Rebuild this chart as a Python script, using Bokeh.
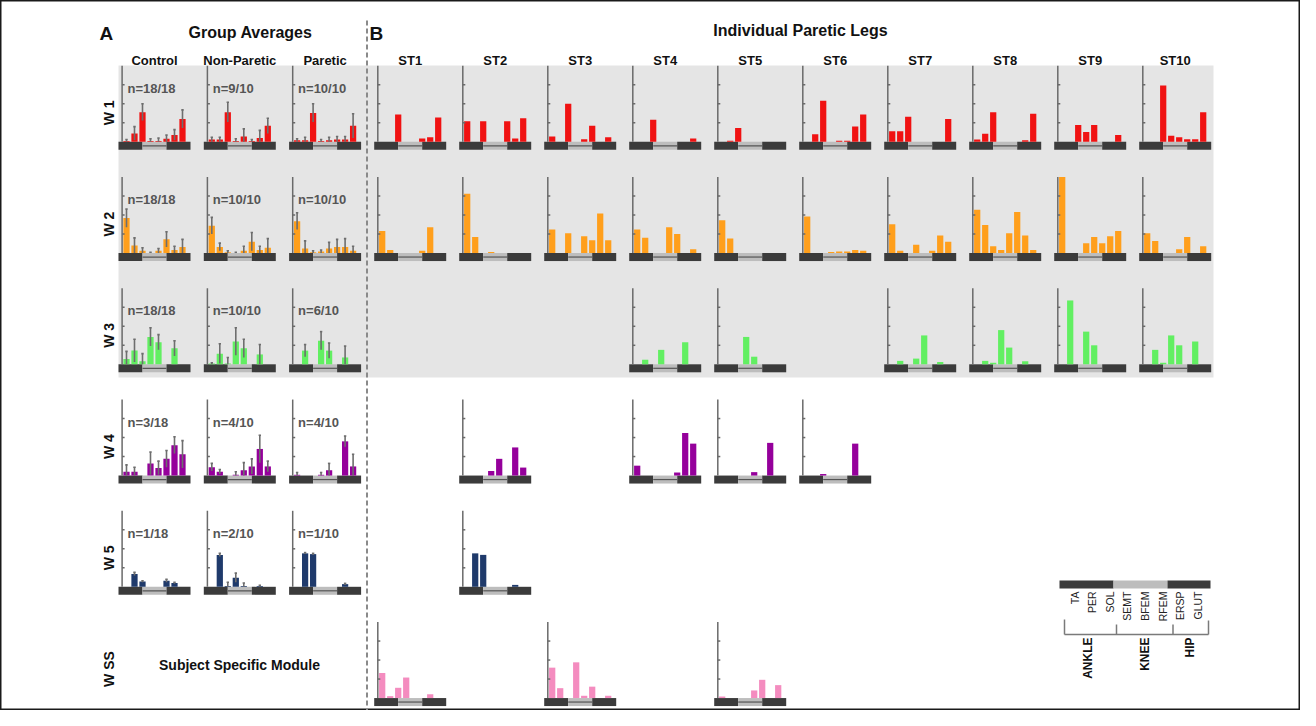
import math
from bokeh.plotting import figure
from bokeh.models import Range1d, ColumnDataSource
from bokeh.core.properties import value
from bokeh.embed import file_html
from bokeh.resources import INLINE

FONT = "Liberation Sans"

# ---------------- data ----------------
MUSCLES = ["TA", "PER", "SOL", "SEMT", "BFEM", "RFEM", "ERSP", "GLUT"]
JOINTS = ["ANKLE", "KNEE", "HIP"]
ROW_LABELS = ["W 1", "W 2", "W 3", "W 4", "W 5", "W SS"]
GROUPS = ["Control", "Non-Paretic", "Paretic"]
SUBJECTS = ["ST1", "ST2", "ST3", "ST4", "ST5", "ST6", "ST7", "ST8", "ST9", "ST10"]
ROW_COLORS = ["#f01212", "#ff9f1c", "#62ef62", "#95009b", "#1f3a6b", "#f48cbf"]

# group averages (fraction of axis height), order: Control, Non-Paretic, Paretic
W1_MEAN = [[0.01, 0.11, 0.39, 0.01, 0.01, 0.04, 0.09, 0.30],
           [0.03, 0.03, 0.39, 0.01, 0.07, 0.01, 0.05, 0.21],
           [0.02, 0.02, 0.38, 0.01, 0.02, 0.03, 0.03, 0.21]]
W1_ERR = [[0.02, 0.09, 0.11, 0.03, 0.04, 0.05, 0.07, 0.12],
          [0.03, 0.03, 0.13, 0.03, 0.10, 0.02, 0.10, 0.10],
          [0.02, 0.04, 0.12, 0.02, 0.04, 0.04, 0.04, 0.16]]
W2_MEAN = [[0.46, 0.10, 0.03, 0.00, 0.03, 0.18, 0.04, 0.08],
           [0.36, 0.08, 0.01, 0.00, 0.03, 0.15, 0.04, 0.07],
           [0.42, 0.06, 0.01, 0.02, 0.06, 0.08, 0.08, 0.03]]
W2_ERR = [[0.12, 0.10, 0.04, 0.01, 0.03, 0.10, 0.05, 0.10],
          [0.11, 0.05, 0.02, 0.01, 0.06, 0.12, 0.05, 0.12],
          [0.11, 0.10, 0.02, 0.02, 0.08, 0.10, 0.11, 0.06]]
W3_MEAN = [[0.07, 0.18, 0.04, 0.36, 0.29, 0.00, 0.21, 0.00],
           [0.01, 0.14, 0.01, 0.30, 0.21, 0.00, 0.13, 0.00],
           [0.00, 0.18, 0.00, 0.31, 0.18, 0.00, 0.09, 0.00]]
W3_ERR = [[0.10, 0.15, 0.10, 0.12, 0.10, 0.00, 0.10, 0.00],
          [0.01, 0.13, 0.08, 0.18, 0.12, 0.00, 0.13, 0.00],
          [0.00, 0.08, 0.00, 0.12, 0.10, 0.00, 0.15, 0.00]]
W4_MEAN = [[0.05, 0.05, 0.00, 0.16, 0.10, 0.22, 0.40, 0.28],
           [0.11, 0.05, 0.00, 0.01, 0.07, 0.12, 0.35, 0.12],
           [0.01, 0.00, 0.00, 0.01, 0.07, 0.00, 0.45, 0.12]]
W4_ERR = [[0.09, 0.06, 0.00, 0.15, 0.09, 0.11, 0.11, 0.18],
          [0.05, 0.03, 0.00, 0.04, 0.10, 0.10, 0.18, 0.07],
          [0.03, 0.00, 0.00, 0.03, 0.09, 0.00, 0.07, 0.16]]
W5_MEAN = [[0.00, 0.17, 0.07, 0.00, 0.00, 0.08, 0.05, 0.00],
           [0.00, 0.42, 0.01, 0.12, 0.01, 0.00, 0.01, 0.00],
           [0.00, 0.44, 0.43, 0.00, 0.00, 0.00, 0.035, 0.00]]
W5_ERR = [[0.00, 0.02, 0.01, 0.00, 0.00, 0.02, 0.01, 0.00],
          [0.00, 0.02, 0.05, 0.06, 0.04, 0.00, 0.01, 0.00],
          [0.00, 0.01, 0.01, 0.00, 0.00, 0.00, 0.01, 0.00]]
N_LABELS = [["n=18/18", "n=9/10", "n=10/10"],
            ["n=18/18", "n=10/10", "n=10/10"],
            ["n=18/18", "n=10/10", "n=6/10"],
            ["n=3/18", "n=4/10", "n=4/10"],
            ["n=1/18", "n=2/10", "n=1/10"]]

# individual paretic legs
W1_IND = {"ST1": [0, 0, 0.36, 0, 0, 0.045, 0.06, 0.32],
          "ST2": [0.27, 0, 0.27, 0, 0, 0.27, 0.045, 0.31],
          "ST3": [0.07, 0, 0.50, 0, 0.035, 0.21, 0, 0.06],
          "ST4": [0, 0, 0.29, 0, 0, 0, 0, 0.045],
          "ST5": [0, 0.015, 0.18, 0, 0, 0, 0, 0],
          "ST6": [0, 0.10, 0.54, 0, 0.015, 0.015, 0.20, 0.36],
          "ST7": [0.14, 0.14, 0.33, 0, 0, 0, 0, 0.30],
          "ST8": [0.03, 0.105, 0.39, 0, 0, 0, 0.02, 0.37],
          "ST9": [0, 0, 0.22, 0.13, 0.22, 0, 0, 0.09],
          "ST10": [0, 0, 0.74, 0.08, 0.06, 0.035, 0.035, 0.39]}
W2_IND = {"ST1": [0.29, 0.04, 0, 0, 0, 0.03, 0.34, 0],
          "ST2": [0.78, 0.21, 0, 0.015, 0, 0, 0, 0],
          "ST3": [0.31, 0, 0.26, 0, 0.22, 0.17, 0.52, 0.17],
          "ST4": [0.31, 0.20, 0, 0, 0.34, 0.25, 0, 0.05],
          "ST5": [0.43, 0.19, 0, 0, 0, 0, 0, 0],
          "ST6": [0.48, 0, 0, 0.015, 0.02, 0.02, 0.04, 0.03],
          "ST7": [0.38, 0.03, 0, 0.11, 0, 0.03, 0.23, 0.15],
          "ST8": [0.57, 0.37, 0.09, 0.04, 0.26, 0.54, 0.23, 0.04],
          "ST9": [1.0, 0, 0, 0.13, 0.21, 0.13, 0.22, 0.29],
          "ST10": [0.26, 0.16, 0, 0, 0.05, 0.21, 0, 0.09]}
W3_IND = {"ST4": [0, 0.06, 0, 0.19, 0, 0, 0.29, 0],
          "ST5": [0, 0, 0, 0.36, 0.10, 0, 0, 0],
          "ST7": [0, 0.045, 0, 0.075, 0.38, 0, 0.03, 0],
          "ST8": [0, 0.045, 0.02, 0.45, 0.22, 0, 0.04, 0],
          "ST9": [0, 0.84, 0, 0.43, 0.25, 0, 0, 0],
          "ST10": [0, 0.19, 0.02, 0.38, 0.25, 0, 0.30, 0]}
W4_IND = {"ST2": [0, 0, 0, 0.06, 0.22, 0, 0.37, 0.105],
          "ST4": [0.13, 0, 0, 0, 0, 0.04, 0.56, 0.42],
          "ST5": [0, 0, 0, 0, 0.045, 0, 0.43, 0],
          "ST6": [0, 0, 0.02, 0, 0, 0, 0.42, 0]}
W5_IND = {"ST2": [0, 0.44, 0.42, 0, 0, 0, 0.025, 0]}
WSS_IND = {"ST1": [0.33, 0.025, 0.135, 0.27, 0, 0, 0.05, 0],
           "ST3": [0.40, 0.13, 0, 0.47, 0.03, 0.15, 0, 0.03],
           "ST5": [0.02, 0, 0, 0, 0.10, 0.24, 0, 0.17]}

GROUP_MEANS = [W1_MEAN, W2_MEAN, W3_MEAN, W4_MEAN, W5_MEAN, None]
GROUP_ERRS = [W1_ERR, W2_ERR, W3_ERR, W4_ERR, W5_ERR, None]
INDIVIDUAL = [W1_IND, W2_IND, W3_IND, W4_IND, W5_IND, WSS_IND]

# ---------------- layout ----------------
W, H = 1300, 710
SX, SY = 8.0, 76.0          # px per bar slot, px per unit of activation


def X(px):
    return px / SX


def Y(py):
    return -py / SY


ROW_BASE = [149.3 + 111.25 * r for r in range(6)]
GROUP_X0 = [126.0 + 85.3 * j for j in range(3)]
IND_X0 = [381.7 + 85.0 * j for j in range(10)]
STRIP_H = 8.0

p = figure(width=W, height=H, x_range=Range1d(X(8), X(1308)),
           y_range=Range1d(Y(718), Y(8)), output_backend="svg",
           toolbar_location=None, min_border=0,
           background_fill_color="white", border_fill_color="white")
p.axis.visible = False
p.grid.visible = False
p.outline_line_color = "#1a1a1a"
p.outline_line_width = 2

# gray shaded background for W1-W3
p.quad(left=[X(126)], right=[X(1221)], top=[Y(73)], bottom=[Y(385)],
       fill_color="#e5e5e5", line_color=None)

# dashed divider
p.segment(x0=[X(374.5)], y0=[Y(28)], x1=[X(374.5)], y1=[Y(718)],
          line_color="#8a8a8a", line_width=2, line_dash="5 3")

bars = dict(x=[], bottom=[], top=[], color=[])
strips = dict(left=[], right=[], top=[], bottom=[], color=[])
lines = dict(x0=[], y0=[], x1=[], y1=[])
axes = dict(x0=[], y0=[], x1=[], y1=[])
errs = dict(x0=[], y0=[], x1=[], y1=[])


def panel(x0px, basepx, vals, color, ers=None):
    x0 = X(x0px)
    y0 = Y(basepx)
    # strip
    for k, c in enumerate(["#3b3b3b", "#bdbdbd", "#3b3b3b"]):
        strips["left"].append(x0 + 3 * k)
        strips["right"].append(x0 + 3 * k + 3)
        strips["top"].append(y0)
        strips["bottom"].append(y0 - STRIP_H / SY)
        strips["color"].append(c)
    lines["x0"].append(x0 + 3)
    lines["x1"].append(x0 + 6)
    lines["y0"].append(y0 - STRIP_H / 2 / SY)
    lines["y1"].append(y0 - STRIP_H / 2 / SY)
    # axis
    ax = x0 + 0.45
    axes["x0"].append(ax); axes["x1"].append(ax)
    axes["y0"].append(y0); axes["y1"].append(y0 + 1.0)
    for t in (0.25, 0.5, 0.75):
        axes["x0"].append(ax); axes["x1"].append(ax + 2.5 / SX)
        axes["y0"].append(y0 + t); axes["y1"].append(y0 + t)
    for i, v in enumerate(vals):
        if v > 0:
            bars["x"].append(x0 + i + 1)
            bars["bottom"].append(y0)
            bars["top"].append(y0 + v)
            bars["color"].append(color)
        if ers is not None and ers[i] > 0:
            xc = x0 + i + 1
            lo = max(v - ers[i], 0)
            hi = v + ers[i]
            errs["x0"].append(xc); errs["x1"].append(xc)
            errs["y0"].append(y0 + lo); errs["y1"].append(y0 + hi)
            errs["x0"].append(xc - 0.15); errs["x1"].append(xc + 0.15)
            errs["y0"].append(y0 + hi); errs["y1"].append(y0 + hi)


n_text = dict(x=[], y=[], text=[])
for r in range(6):
    base = ROW_BASE[r]
    color = ROW_COLORS[r]
    if GROUP_MEANS[r] is not None:
        for j in range(3):
            panel(GROUP_X0[j], base, GROUP_MEANS[r][j], color, GROUP_ERRS[r][j])
            n_text["x"].append(X(GROUP_X0[j] + 9))
            n_text["y"].append(Y(base - 53.5))
            n_text["text"].append(N_LABELS[r][j])
    for j, s in enumerate(SUBJECTS):
        if s in INDIVIDUAL[r]:
            panel(IND_X0[j], base, INDIVIDUAL[r][s], color)

p.quad(source=ColumnDataSource(strips), left="left", right="right", top="top",
       bottom="bottom", fill_color="color", line_color=None)
p.segment(source=ColumnDataSource(lines), x0="x0", y0="y0", x1="x1", y1="y1",
          line_color="#555555", line_width=1.2)
p.vbar(source=ColumnDataSource(bars), x="x", width=0.78, bottom="bottom",
       top="top", fill_color="color", line_color=None)
p.segment(source=ColumnDataSource(errs), x0="x0", y0="y0", x1="x1", y1="y1",
          line_color="#6e6e6e", line_width=1.6)
p.segment(source=ColumnDataSource(axes), x0="x0", y0="y0", x1="x1", y1="y1",
          line_color="#6a6a6a", line_width=1.5)

p.text(x="x", y="y", text="text", source=ColumnDataSource(n_text),
       text_font=value(FONT), text_font_style="bold", text_font_size="13px",
       text_color="#555555", text_align="left", text_baseline="alphabetic")

# titles
def txt(xpx, ypx, s, size, align="center", baseline="alphabetic", style="bold",
        color="#111111", angle=0.0):
    p.text(x=[X(xpx)], y=[Y(ypx)], text=[s], text_font=value(FONT),
           text_font_style=style, text_font_size=size, text_color=color,
           text_align=align, text_baseline=baseline, angle=angle)


txt(107, 41, "A", "19px", align="left")
txt(258, 39.5, "Group Averages", "16px")
txt(377, 41, "B", "19px", align="left")
txt(808, 37.5, "Individual Paretic Legs", "16px")
for j, g in enumerate(GROUPS):
    txt(GROUP_X0[j] + 36, 67.5, g, "13px")
for j, s in enumerate(SUBJECTS):
    txt(IND_X0[j] + 36, 67.5, s, "13px")
for r, lab in enumerate(ROW_LABELS):
    txt(116, ROW_BASE[r] - 29, lab, "14px", baseline="middle", angle=math.pi / 2)
txt(247, 672, "Subject Specific Module", "14px")

# legend for muscle order
LEG_X = [1067, 1121, 1175, 1218]
LEG_COL = ["#3b3b3b", "#bdbdbd", "#3b3b3b"]
p.quad(left=[X(v) for v in LEG_X[:-1]], right=[X(v) for v in LEG_X[1:]],
       top=[Y(588)] * 3, bottom=[Y(596)] * 3, fill_color=LEG_COL,
       line_color=None)
leg_lab_x = [1082 + 17.6 * i for i in range(len(MUSCLES))]
p.text(x=[X(v) for v in leg_lab_x], y=[Y(599)] * len(MUSCLES), text=MUSCLES,
       text_font=value(FONT), text_font_size="10.5px", text_color="#222222",
       text_align="right", text_baseline="middle", angle=math.pi / 2)
BR = [1072, 1124, 1180.5, 1216]
p.segment(x0=[X(BR[0])], y0=[Y(642)], x1=[X(BR[-1])], y1=[Y(642)],
          line_color="#7a7a7a", line_width=1.5)
p.segment(x0=[X(v) for v in BR], x1=[X(v) for v in BR],
          y0=[Y(627), Y(632), Y(632), Y(628)], y1=[Y(642)] * 4,
          line_color="#7a7a7a", line_width=1.5)
p.text(x=[X(1095), X(1152), X(1197)], y=[Y(645)] * 3, text=JOINTS,
       text_font=value(FONT), text_font_style="bold", text_font_size="12px",
       text_color="#111111", text_align="right", text_baseline="middle",
       angle=math.pi / 2)

open("out.html", "w").write(file_html(p, INLINE))
